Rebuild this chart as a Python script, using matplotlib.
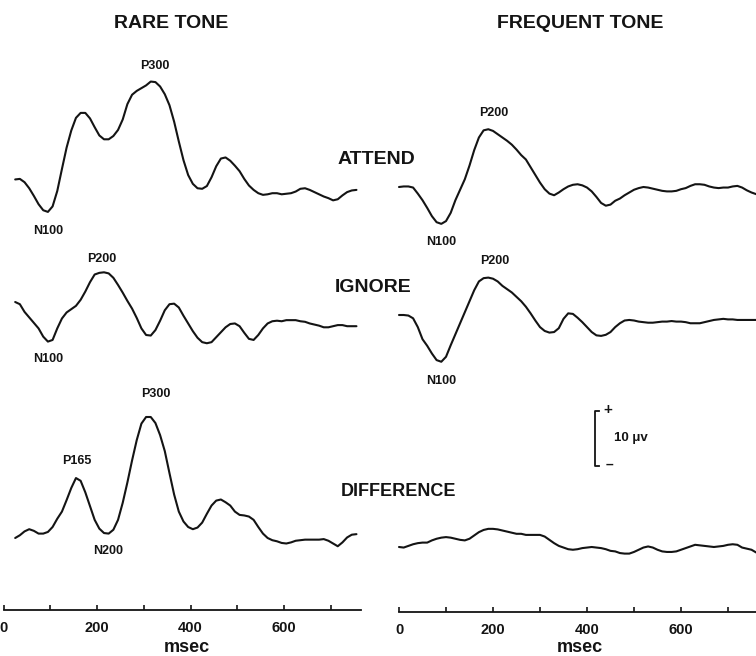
import matplotlib
matplotlib.use("Agg")
import matplotlib.pyplot as plt
import numpy as np

plt.rcParams['font.family'] = ['Liberation Sans', 'DejaVu Sans']
plt.rcParams['font.weight'] = 'bold'

# ---------------- data (ms, microvolts; positive up) ----------------
t_rare = [25, 35, 45, 55, 65, 75, 85, 95, 105, 115,
          125, 135, 145, 155, 165, 175, 185, 195, 205, 215,
          225, 235, 245, 255, 265, 275, 285, 295, 305, 315,
          325, 335, 345, 355, 365, 375, 385, 395, 405, 415,
          425, 435, 445, 455, 465, 475, 485, 495, 505, 515,
          525, 535, 545, 555, 565, 575, 585, 595, 605, 615,
          625, 635, 645, 655, 665, 675, 685, 695, 705, 715,
          725, 735, 745, 755]

rare_attend = [0.1, 0.2, -0.4, -1.5, -2.9, -4.4, -5.5, -5.8, -4.8, -2.0,
               2.0, 5.9, 9.0, 11.3, 12.2, 12.2, 11.2, 9.6, 8.1, 7.4,
               7.4, 8.0, 9.1, 11.0, 13.8, 15.5, 16.2, 16.7, 17.2, 17.9,
               17.8, 17.0, 15.6, 13.6, 10.6, 7.0, 3.6, 0.9, -0.7, -1.5,
               -1.6, -1.1, 0.5, 2.5, 3.9, 4.1, 3.5, 2.6, 1.6, 0.2,
               -1.0, -1.8, -2.4, -2.7, -2.6, -2.4, -2.4, -2.6, -2.5, -2.4,
               -2.1, -1.6, -1.5, -1.8, -2.2, -2.6, -3.0, -3.3, -3.7, -3.5,
               -2.8, -2.2, -1.9, -1.8]

rare_ignore = [0.0, -0.4, -1.8, -2.8, -3.8, -4.8, -6.3, -7.2, -6.9, -4.8,
               -3.0, -1.9, -1.3, -0.7, 0.4, 1.9, 3.6, 5.0, 5.3, 5.4,
               5.2, 4.4, 3.1, 1.7, 0.2, -1.2, -2.9, -4.8, -6.0, -6.1,
               -5.1, -3.4, -1.5, -0.4, -0.3, -1.0, -2.5, -3.9, -5.3, -6.5,
               -7.3, -7.5, -7.3, -6.4, -5.5, -4.6, -4.0, -3.9, -4.4, -5.6,
               -6.7, -6.9, -6.0, -4.8, -3.9, -3.5, -3.4, -3.5, -3.3, -3.3,
               -3.3, -3.5, -3.6, -3.9, -4.1, -4.3, -4.6, -4.6, -4.4, -4.2,
               -4.2, -4.4, -4.4, -4.4]

rare_diff = [0.0, 0.5, 1.2, 1.6, 1.3, 0.8, 0.8, 1.1, 2.0, 3.5,
             4.8, 6.9, 9.1, 10.9, 10.4, 8.3, 5.8, 3.3, 1.7, 0.9,
             0.8, 1.5, 3.3, 6.4, 10.1, 14.1, 17.8, 20.8, 22.0, 22.0,
             20.9, 18.7, 15.8, 11.8, 7.9, 4.8, 3.0, 2.0, 1.6, 1.9,
             2.8, 4.4, 5.9, 6.8, 7.0, 6.5, 5.9, 4.8, 4.2, 4.1,
             3.9, 3.3, 2.0, 0.8, 0.0, -0.4, -0.6, -0.9, -1.0, -0.8,
             -0.5, -0.4, -0.3, -0.3, -0.3, -0.3, -0.2, -0.5, -1.0, -1.5,
             -0.8, 0.1, 0.6, 0.7]

t_freq = [0, 10, 20, 30, 40, 50, 60, 70, 80, 90,
          100, 110, 120, 130, 140, 150, 160, 170, 180, 190,
          200, 210, 220, 230, 240, 250, 260, 270, 280, 290,
          300, 310, 320, 330, 340, 350, 360, 370, 380, 390,
          400, 410, 420, 430, 440, 450, 460, 470, 480, 490,
          500, 510, 520, 530, 540, 550, 560, 570, 580, 590,
          600, 610, 620, 630, 640, 650, 660, 670, 680, 690,
          700, 710, 720, 730, 740, 750, 760]

freq_attend = [0.0, 0.1, 0.1, -0.1, -1.2, -2.4, -3.8, -5.3, -6.4, -6.7,
               -6.2, -4.7, -2.4, -0.5, 1.4, 3.9, 6.7, 9.0, 10.3, 10.5,
               10.2, 9.6, 9.0, 8.4, 7.7, 6.8, 5.8, 5.0, 3.6, 2.2,
               0.8, -0.4, -1.2, -1.5, -1.0, -0.4, 0.1, 0.4, 0.5, 0.3,
               -0.1, -0.8, -1.8, -2.9, -3.4, -3.2, -2.5, -2.1, -1.5, -1.0,
               -0.5, -0.2, 0.0, -0.1, -0.3, -0.5, -0.7, -0.8, -0.8, -0.7,
               -0.4, -0.2, 0.2, 0.5, 0.5, 0.4, 0.1, -0.1, -0.2, -0.1,
               -0.1, 0.1, 0.2, -0.1, -0.6, -1.0, -1.3]

freq_ignore = [0.0, 0.0, -0.1, -0.6, -2.2, -4.4, -5.6, -7.0, -8.2, -8.5,
               -7.6, -5.5, -3.5, -1.5, 0.5, 2.5, 4.5, 6.1, 6.7, 6.8,
               6.6, 6.1, 5.3, 4.7, 4.1, 3.3, 2.5, 1.5, 0.3, -1.0,
               -2.2, -2.9, -3.2, -3.1, -2.4, -0.7, 0.3, 0.2, -0.5, -1.3,
               -2.2, -3.1, -3.7, -3.8, -3.6, -3.1, -2.2, -1.5, -1.0, -0.9,
               -1.0, -1.2, -1.3, -1.4, -1.4, -1.3, -1.2, -1.2, -1.1, -1.2,
               -1.2, -1.3, -1.5, -1.5, -1.5, -1.3, -1.1, -0.9, -0.8, -0.7,
               -0.8, -0.8, -0.9, -0.9, -0.9, -0.9, -0.9]

freq_diff = [0.0, -0.1, 0.2, 0.5, 0.7, 0.8, 0.8, 1.2, 1.5, 1.7,
             1.8, 1.7, 1.5, 1.3, 1.2, 1.5, 2.1, 2.7, 3.1, 3.3,
             3.3, 3.2, 3.0, 2.8, 2.6, 2.4, 2.4, 2.2, 2.2, 2.2,
             2.2, 1.9, 1.3, 0.7, 0.2, -0.1, -0.4, -0.5, -0.4, -0.2,
             -0.1, 0.0, -0.1, -0.2, -0.4, -0.7, -0.8, -1.1, -1.2, -1.2,
             -0.9, -0.5, -0.1, 0.1, -0.1, -0.5, -0.8, -0.9, -0.9, -0.8,
             -0.5, -0.2, 0.1, 0.4, 0.3, 0.2, 0.1, 0.0, 0.1, 0.2,
             0.4, 0.5, 0.4, -0.1, -0.3, -0.5, -1.0]

major_ticks = [0, 200, 400, 600]
minor_ticks = [100, 300, 500, 700]
tick_labels = ["0", "200", "400", "600"]
scale_uv = 10

# ---------------- layout ----------------
W, H = 756, 656
PX_PER_UV = 5.5
INK = "#141414"

fig = plt.figure(figsize=(W / 100, H / 100), dpi=100)
fig.patch.set_facecolor("white")


def fx(px):
    return px / W


def fy(py):
    return 1 - py / H


def off(py):
    return (H - py) / PX_PER_UV


# left column: 0 ms at px 3.5, 0.4675 px/ms ; right: 0 ms at px 399, 0.47 px/ms
L0, LS = 3.5, 0.4675
R0, RS, RX = 399.0, 0.47, 380.0

axL = fig.add_axes([0, 0, 378 / W, 1])
axL.set_xlim(-L0 / LS, (378 - L0) / LS)
axR = fig.add_axes([RX / W, 0, (W - RX) / W, 1])
axR.set_xlim(-(R0 - RX) / RS, (W - R0) / RS)
for ax in (axL, axR):
    ax.set_ylim(0, H / PX_PER_UV)
    ax.axis("off")

lw = 1.5
for vals, base in ((rare_attend, 180), (rare_ignore, 302), (rare_diff, 538)):
    axL.plot(t_rare, np.array(vals) + off(base), color=INK, lw=lw,
             solid_joinstyle="round", solid_capstyle="round")
for vals, base in ((freq_attend, 187), (freq_ignore, 315), (freq_diff, 547)):
    axR.plot(t_freq, np.array(vals) + off(base), color=INK, lw=lw,
             solid_joinstyle="round", solid_capstyle="round")

# calibration bar (10 uV)
xs = (595 - R0) / RS
serif = 9
yb = off(466)
axR.plot([xs + serif, xs, xs, xs + serif], [yb + scale_uv, yb + scale_uv, yb, yb],
         color=INK, lw=1.3)
fig.text(fx(608), fy(410), "+", fontsize=11, ha="center", va="center", color=INK)
fig.text(fx(609), fy(465), "\u2013", fontsize=10, ha="center", va="center", color=INK)
fig.text(fx(631), fy(438), "10 \u03bcv", fontsize=9.5, ha="center", va="center", color=INK)

# time axes
def time_axis(rect, xlim, bounds):
    a = fig.add_axes(rect)
    a.set_xlim(*xlim)
    a.set_ylim(0, 1)
    a.patch.set_visible(False)
    for s in ("top", "left", "right"):
        a.spines[s].set_visible(False)
    a.spines["bottom"].set_bounds(*bounds)
    a.spines["bottom"].set_linewidth(1.3)
    a.spines["bottom"].set_color(INK)
    a.set_yticks([])
    a.set_xticks(major_ticks)
    a.set_xticklabels(tick_labels)
    a.set_xticks(minor_ticks, minor=True)
    a.tick_params(axis="x", which="both", direction="in", length=3.5, width=1.2,
                  color=INK, pad=8, labelsize=10.5, labelcolor=INK)
    for lab in a.get_xticklabels():
        lab.set_fontweight("bold")
    return a


time_axis([0, fy(610), 378 / W, 1e-4], axL.get_xlim(), (0, 765))
time_axis([RX / W, fy(612), (W - RX) / W, 1e-4], axR.get_xlim(), (0, (W - R0) / RS))

fig.text(fx(187), fy(647), "msec", fontsize=13, ha="center", va="center", color=INK)
fig.text(fx(580), fy(647), "msec", fontsize=13, ha="center", va="center", color=INK)

# headers
fig.text(fx(171), fy(23), "RARE TONE", fontsize=14, ha="center", va="center", color=INK)
fig.text(fx(580), fy(23), "FREQUENT TONE", fontsize=14, ha="center", va="center", color=INK)
fig.text(fx(376), fy(160), "ATTEND", fontsize=14, ha="center", va="center", color=INK)
fig.text(fx(373), fy(288), "IGNORE", fontsize=14, ha="center", va="center", color=INK)
fig.text(fx(398), fy(492), "DIFFERENCE", fontsize=13, ha="center", va="center", color=INK)

# component labels
comp = [
    (155, 66, "P300"), (48, 231, "N100"),
    (494, 113, "P200"), (441, 242, "N100"),
    (102, 259, "P200"), (48, 359, "N100"),
    (495, 261, "P200"), (441, 381, "N100"),
    (156, 394, "P300"), (77, 461, "P165"), (108, 551, "N200"),
]
for px, py, s in comp:
    fig.text(fx(px), fy(py), s, fontsize=9, ha="center", va="center", color=INK)

fig.savefig("out.png", dpi=100, facecolor="white")
